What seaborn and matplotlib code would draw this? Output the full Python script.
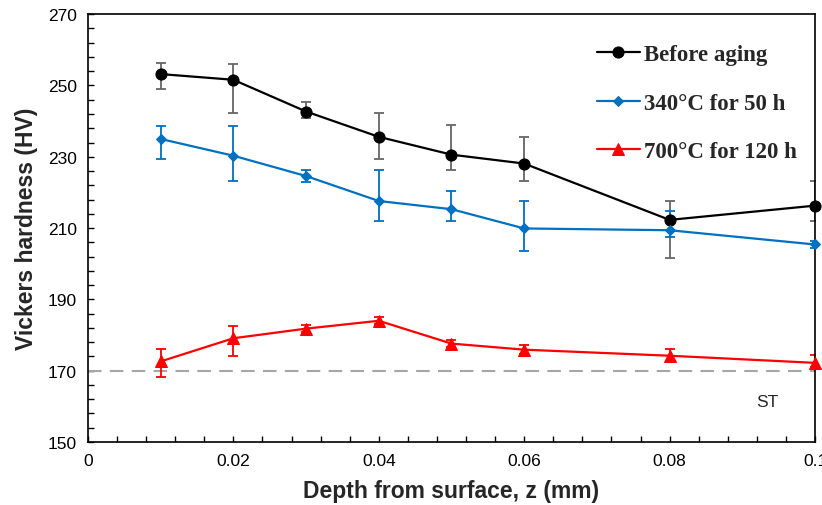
import numpy as np
import pandas as pd
import matplotlib
matplotlib.use('Agg')
import matplotlib.pyplot as plt
import seaborn as sns

# data
depth = [0.01, 0.02, 0.03, 0.04, 0.05, 0.06, 0.08, 0.10]

hv_before = [253.2, 251.6, 242.7, 235.6, 230.6, 228.1, 212.3, 216.3]
hv_before_hi = [256.3, 256.0, 245.4, 242.2, 238.9, 235.6, 217.5, 223.3]
hv_before_lo = [249.0, 242.2, 240.8, 229.3, 226.3, 223.3, 201.5, 211.9]

hv_340 = [235.0, 230.3, 224.6, 217.6, 215.3, 209.9, 209.4, 205.4]
hv_340_hi = [238.7, 238.7, 226.3, 226.3, 220.5, 217.7, 214.7, 206.5]
hv_340_lo = [229.3, 223.3, 223.0, 211.9, 211.9, 203.6, 207.5, 204.3]

hv_700 = [172.6, 179.1, 181.8, 184.0, 177.6, 175.9, 174.2, 172.2]
hv_700_hi = [176.1, 182.6, 182.8, 185.0, 178.6, 177.2, 176.0, 174.4]
hv_700_lo = [168.2, 174.0, 180.8, 183.0, 176.6, 174.6, 172.4, 171.0]

labels = ['Before aging', '340\u00b0C for 50 h', '700\u00b0C for 120 h']
x_ticks = [0, 0.02, 0.04, 0.06, 0.08, 0.1]
x_ticklabels = ['0', '0.02', '0.04', '0.06', '0.08', '0.1']
y_ticks = [150, 170, 190, 210, 230, 250, 270]
st_level = 170

sns.set_style('ticks')
plt.rcParams['font.family'] = ['Liberation Sans', 'DejaVu Sans']

fig = plt.figure(figsize=(8.22, 5.06), dpi=100)
ax = fig.add_axes([0.107, 0.1245, 0.8845, 0.8455])

ax.axhline(st_level, color='#A6A6A6', lw=1.5, ls=(0, (6.5, 4)), zorder=1)

series = [
    (hv_before, hv_before_lo, hv_before_hi, 'black', '#666666', 'o', 8),
    (hv_340, hv_340_lo, hv_340_hi, '#0070C0', '#0070C0', 'D', 5),
    (hv_700, hv_700_lo, hv_700_hi, '#FF0000', '#FF0000', '^', 8),
]

for (vals, lo, hi, col, ecol, mk, ms), lab in zip(series, labels):
    yerr = [np.array(vals) - np.array(lo), np.array(hi) - np.array(vals)]
    ax.errorbar(depth, vals, yerr=yerr, fmt='none', ecolor=ecol,
                elinewidth=1.3, capsize=3.5, capthick=1.3, zorder=2)
    df = pd.DataFrame({'depth': depth, 'hv': vals})
    sns.lineplot(data=df, x='depth', y='hv', ax=ax, color=col, lw=1.6,
                 marker=mk, markersize=ms, markeredgecolor=col,
                 label=lab, zorder=3, clip_on=False)

ax.set_xlim(0, 0.1)
ax.set_ylim(150, 270)
ax.set_xticks(x_ticks, x_ticklabels)
ax.set_xticks(np.arange(0, 0.1001, 0.004), minor=True)
ax.set_yticks(y_ticks, [str(v) for v in y_ticks])
ax.set_yticks(np.arange(150, 271, 4), minor=True)
ax.tick_params(which='both', direction='in', length=4, width=1,
               labelsize=12.5, pad=8, colors='black')
for s in ax.spines.values():
    s.set_color('black')
    s.set_linewidth(1.2)

ax.set_xlabel('Depth from surface, z (mm)', fontsize=16.5, fontweight='bold', labelpad=8)
ax.set_ylabel('Vickers hardness (HV)', fontsize=16.5, fontweight='bold', labelpad=7)

ax.text(0.0935, 161.5, 'ST', fontsize=12.5, ha='center', va='center')

h, l = ax.get_legend_handles_labels()
ax.legend(h, l, loc='upper right', bbox_to_anchor=(1.003, 0.978), frameon=False,
          prop={'family': 'Liberation Serif', 'weight': 'bold', 'size': 16.5},
          handlelength=1.9, handletextpad=0.15, labelspacing=1.2)

fig.savefig('out.png', dpi=100)
